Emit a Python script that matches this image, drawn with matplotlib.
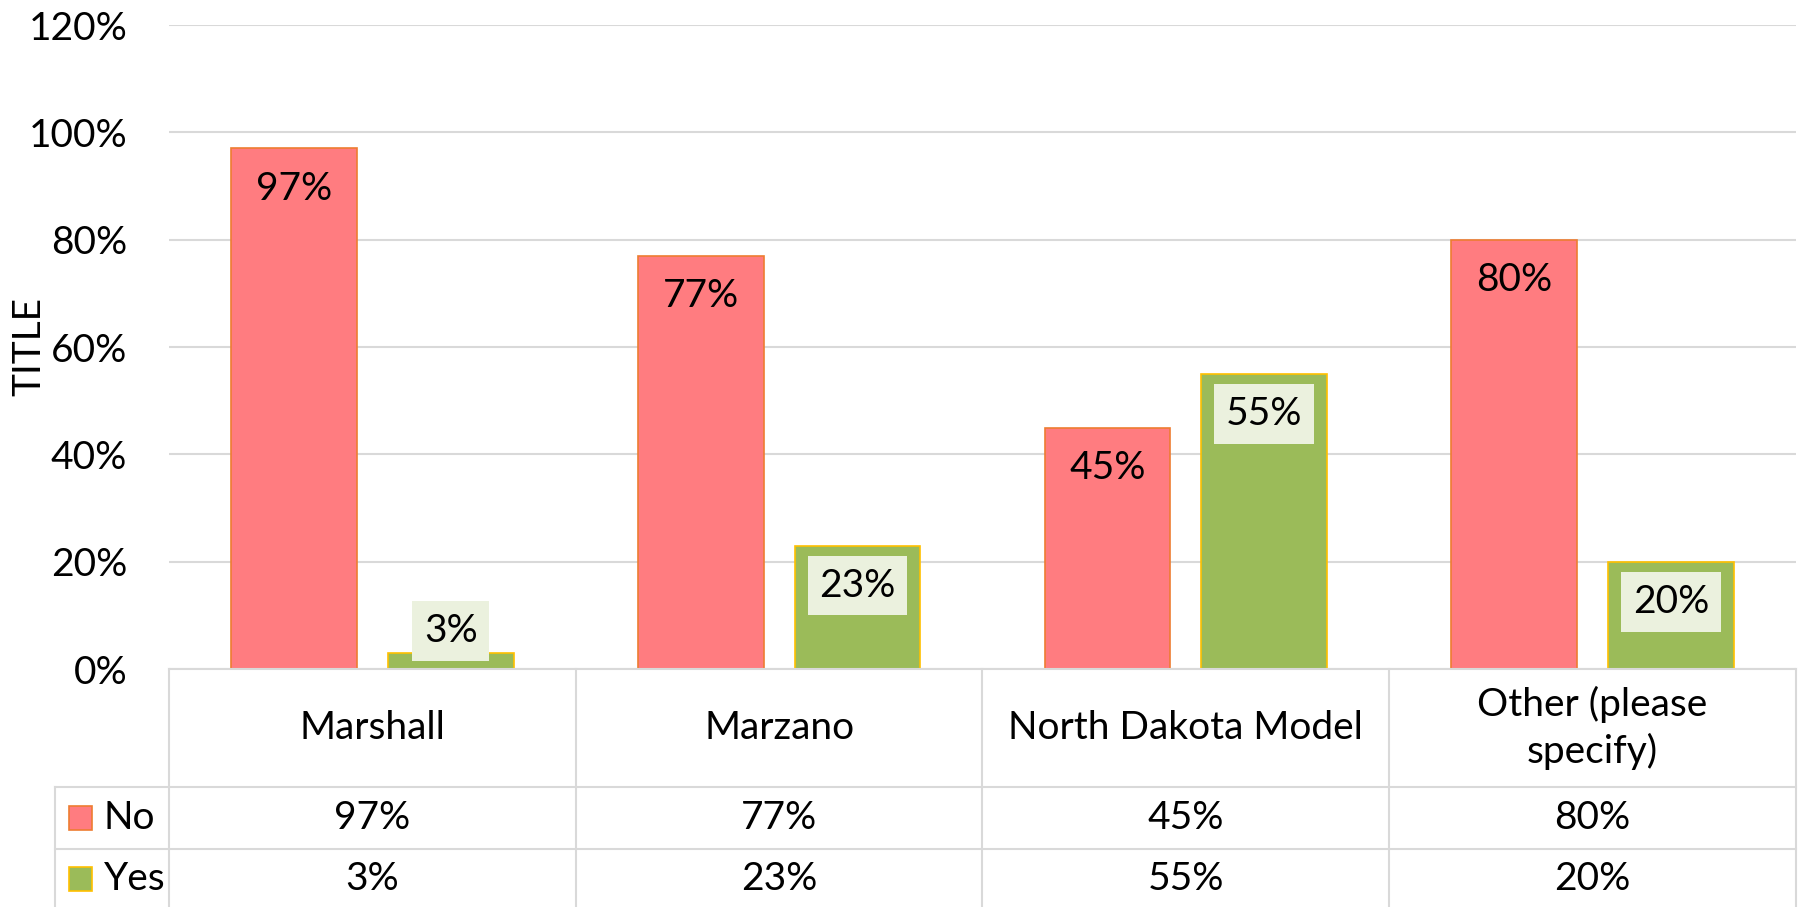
import numpy as np
import matplotlib
matplotlib.use('Agg')
import matplotlib.pyplot as plt
from matplotlib.patches import Rectangle
from matplotlib import transforms

# dados do grafico
categorias = ['Marshall', 'Marzano', 'North Dakota Model', 'Other (please\nspecify)']
series = ['No', 'Yes']
valores_no = [97, 77, 45, 80]
valores_yes = [3, 23, 55, 20]

cor_no, borda_no = '#FF7C80', '#ED7D31'
cor_yes, borda_yes = '#9BBB59', '#FFC000'
cor_caixa = '#EBF1DE'
cor_grade = '#D9D9D9'

plt.rcParams['font.family'] = ['Lato', 'DejaVu Sans']
plt.rcParams['font.size'] = 28

fig = plt.figure(figsize=(18.06, 9.07), dpi=100)
ax = fig.add_axes([169 / 1806, (907 - 669) / 907, 1627 / 1806, 644 / 907])

x = np.arange(len(categorias))
largura = 0.309
desloc = 0.1925
ax.bar(x - desloc, valores_no, largura, color=cor_no, edgecolor=borda_no, linewidth=1.2, zorder=3)
ax.bar(x + desloc, valores_yes, largura, color=cor_yes, edgecolor=borda_yes, linewidth=1.2, zorder=3)

ax.set_xlim(-0.5, 3.5)
ax.set_ylim(0, 120)
ax.set_yticks(range(0, 121, 20))
ax.yaxis.set_major_formatter(lambda v, p: f'{v:.0f}%')
ax.set_xticks([])
ax.grid(axis='y', color=cor_grade, linewidth=1.5, zorder=0)
ax.tick_params(length=0, pad=30)
for s in ax.spines.values():
    s.set_visible(False)

# rotulos das barras (inside end, como no excel)
queda, piso = 7.5, 7.1
for xi, v in zip(x, valores_no):
    ax.text(xi - desloc, max(v - queda, piso), f'{v}%', ha='center', va='center', zorder=4)
for xi, v in zip(x, valores_yes):
    ax.text(xi + desloc, max(v - queda, piso), f'{v}%', ha='center', va='center', zorder=4,
            bbox=dict(boxstyle='square,pad=0.3', fc=cor_caixa, ec='none'))

# tabela de dados embaixo
trans = transforms.blended_transform_factory(ax.transData, ax.transAxes)
y_cat, y_no, y_yes, y_fim = 0, -0.1832, -0.2795, -0.372
x_leg = -0.78

def linha(xs, ys):
    ax.plot(xs, ys, transform=trans, color=cor_grade, linewidth=1.5, clip_on=False, zorder=5)

linha([-0.5, 3.5], [y_cat, y_cat])
linha([x_leg, 3.5], [y_no, y_no])
linha([x_leg, 3.5], [y_yes, y_yes])
for xv in np.arange(len(categorias) + 1) - 0.5:
    linha([xv, xv], [y_cat, y_fim])
linha([x_leg, x_leg], [y_no, y_fim])

for xi, cat in zip(x, categorias):
    ax.text(xi, (y_cat + y_no) / 2, cat, transform=trans, ha='center', va='center',
            linespacing=1.35, clip_on=False)
for xi, a, b in zip(x, valores_no, valores_yes):
    ax.text(xi, (y_no + y_yes) / 2, f'{a}%', transform=trans, ha='center', va='center', clip_on=False)
    ax.text(xi, (y_yes + y_fim) / 2, f'{b}%', transform=trans, ha='center', va='center', clip_on=False)

# legenda dentro da tabela
for nome, cor, borda, y0, y1 in [(series[0], cor_no, borda_no, y_no, y_yes),
                                 (series[1], cor_yes, borda_yes, y_yes, y_fim)]:
    yc = (y0 + y1) / 2
    ax.add_patch(Rectangle((-0.746, yc - 0.0186), 0.0565, 0.0373, transform=trans,
                           facecolor=cor, edgecolor=borda, linewidth=1.2, clip_on=False))
    ax.text(-0.66, yc, nome, transform=trans, ha='left', va='center', clip_on=False)

fig.text(29 / 1806, 1 - 347 / 907, 'TITLE', rotation=90, ha='center', va='center')

fig.savefig('out.png', dpi=100)
